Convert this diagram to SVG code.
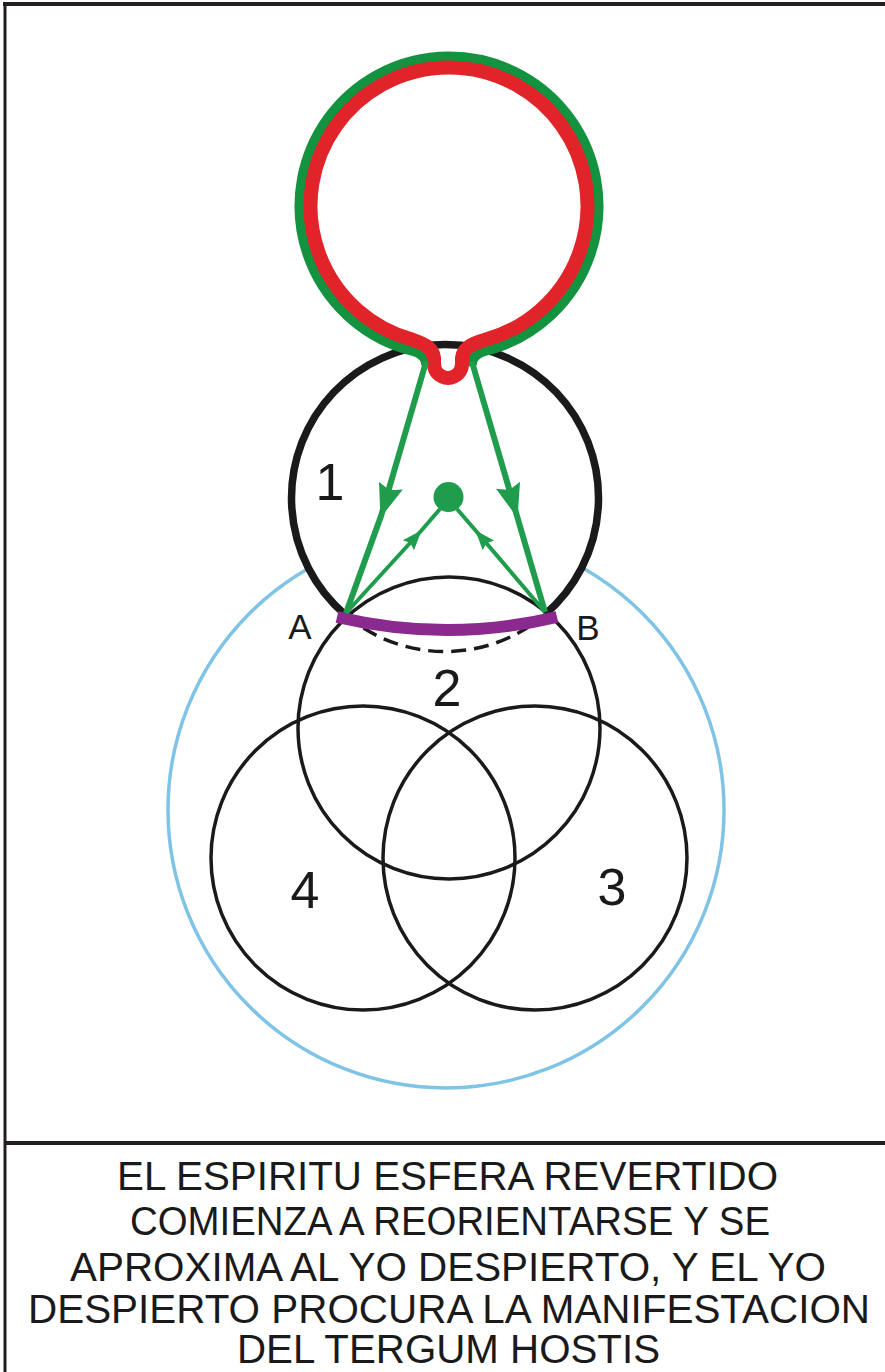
<svg xmlns="http://www.w3.org/2000/svg" width="885" height="1372" viewBox="0 0 885 1372">
<style>
.lbl{font-family:"Liberation Sans",Arial,sans-serif;fill:#1a1a1a}
.num{font-size:52px}
.ab{font-size:35px}
.cap{font-family:"Liberation Sans",Arial,sans-serif;font-size:40px;fill:#1a1a1a;text-anchor:middle}
.thin{fill:none;stroke:#1a1a1a;stroke-width:3.5}
.garrow{fill:none;stroke:#1f9d4d;stroke-width:6}
.gsmall{fill:none;stroke:#1f9d4d;stroke-width:4}
</style>
<defs>
<marker id="bigHead" markerUnits="userSpaceOnUse" orient="auto" markerWidth="40" markerHeight="30" refX="0" refY="0" overflow="visible">
<path d="M2,0 L-32,-12.5 L-27,0 L-32,12.5 Z" fill="#1f9d4d"/>
</marker>
<marker id="smallHead" markerUnits="userSpaceOnUse" orient="auto" markerWidth="24" markerHeight="20" refX="0" refY="0" overflow="visible">
<path d="M1,0 L-19,-7.5 L-16,0 L-19,7.5 Z" fill="#1f9d4d"/>
</marker>
</defs>
<rect x="0" y="0" width="885" height="1372" fill="#ffffff"/>
<g id="frame">
<line x1="3" y1="4" x2="885" y2="4" stroke="#231f20" stroke-width="4"/>
<line x1="5" y1="2" x2="5" y2="1372" stroke="#231f20" stroke-width="3"/>
<line x1="5" y1="1143" x2="885" y2="1143" stroke="#231f20" stroke-width="4"/>
</g>
<g id="outer-sphere">
<circle cx="446" cy="810" r="278" fill="none" stroke="#7fc3e6" stroke-width="3.5"/>
</g>
<g id="circle-1">
<circle cx="445" cy="498" r="153.5" fill="#ffffff"/>
<path d="M345,614.5 A153.5,153.5 0 1 1 545,614.5" fill="none" stroke="#1a1a1a" stroke-width="7.5"/>
</g>
<g id="circle-2">
<circle cx="449" cy="728" r="151" class="thin"/>
</g>
<g id="circle-3">
<circle cx="535" cy="858" r="152" class="thin"/>
</g>
<g id="circle-4">
<circle cx="363" cy="858" r="152" class="thin"/>
</g>
<g id="arc-AB">
<path d="M345,614.5 A153.5,153.5 0 0 0 545,614.5" fill="none" stroke="#1a1a1a" stroke-width="3.5" stroke-dasharray="15 8"/>
<path d="M337,617 Q447,643 557,617" fill="none" stroke="#8b2a8e" stroke-width="12"/>
</g>
<g id="top-sphere">
<path d="M426,366 Q428,353 404,348.6 A149.5,149.5 0 1 1 494,348.6 Q470,353 472,366" fill="none" stroke="#13923f" stroke-width="10"/>
<path d="M412,339.5 C425,344 433,348 434,358 L434,364 A14,14 0 0 0 462,364 L462,358 C463,348 471,344 486,339.5 A138.5,138.5 0 1 0 412,339.5 Z" fill="none" stroke="#e1242a" stroke-width="14"/>
</g>
<g id="center-point">
<circle cx="448.5" cy="497" r="15" fill="#1f9d4d"/>
</g>
<g id="connectors">
<path class="garrow" d="M426,362 L381,516 L346,613" marker-mid="url(#bigHead)"/>
<path class="garrow" d="M472,362 L517,516 L545,612" marker-mid="url(#bigHead)"/>
<path class="gsmall" d="M346,613 L421,531 L440,509" marker-mid="url(#smallHead)"/>
<path class="gsmall" d="M545,612 L476,531 L457,509" marker-mid="url(#smallHead)"/>
</g>
<g id="labels">
<text class="lbl num" x="330" y="500" text-anchor="middle">1</text>
<text class="lbl num" x="447" y="706" text-anchor="middle">2</text>
<text class="lbl num" x="612" y="905" text-anchor="middle">3</text>
<text class="lbl num" x="305" y="908" text-anchor="middle">4</text>
<text class="lbl ab" x="300" y="639" text-anchor="middle">A</text>
<text class="lbl ab" x="588" y="640" text-anchor="middle">B</text>
</g>
<g id="caption">
<text class="cap" x="447.5" y="1190" textLength="661" lengthAdjust="spacingAndGlyphs">EL ESPIRITU ESFERA REVERTIDO</text>
<text class="cap" x="450" y="1235" textLength="640" lengthAdjust="spacingAndGlyphs">COMIENZA A REORIENTARSE Y SE</text>
<text class="cap" x="448" y="1281" textLength="756" lengthAdjust="spacingAndGlyphs">APROXIMA AL YO DESPIERTO, Y EL YO</text>
<text class="cap" x="449" y="1323" textLength="842" lengthAdjust="spacingAndGlyphs">DESPIERTO PROCURA LA MANIFESTACION</text>
<text class="cap" x="448.5" y="1363" textLength="423" lengthAdjust="spacingAndGlyphs">DEL TERGUM HOSTIS</text>
</g>
</svg>
